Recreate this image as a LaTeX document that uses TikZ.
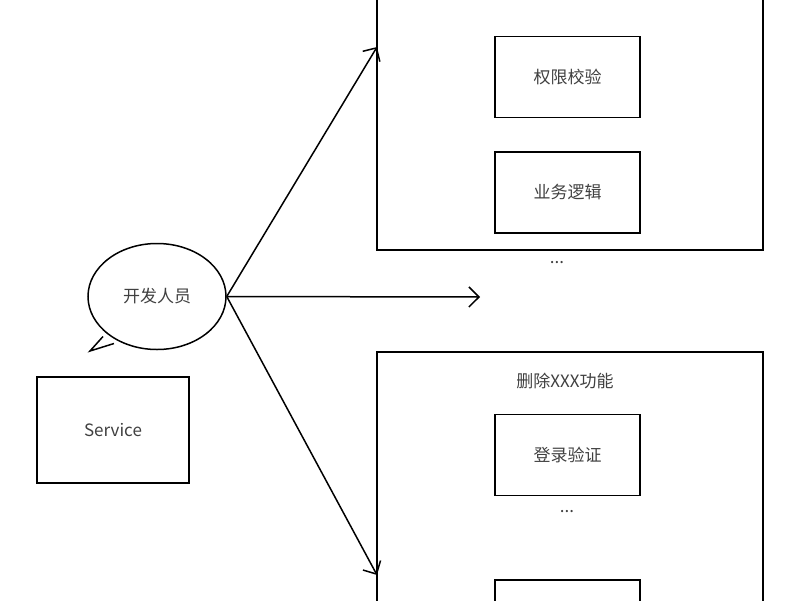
\documentclass[tikz,border=0pt]{standalone}
\usepackage{fontspec}
\setmainfont{Noto Sans CJK SC}
\usetikzlibrary{arrows.meta,shapes.geometric}

\begin{document}
\begin{tikzpicture}[x=1pt,y=-1pt,line width=1.5pt,
    every node/.style={font=\fontsize{17}{20}\selectfont,text=black!75},
    box/.style={draw,minimum width=145pt,minimum height=81pt},
    arr/.style={-{Straight Barb[length=10pt,width=20pt]}}]
    \useasboundingbox (0,0) rectangle (800,600);

    \draw (377,-5) rectangle (763,250);
    \draw (377,352) rectangle (763,605);

    \node[box] (quanxian) at (567.5,77) {权限校验};
    \node[box] (yewu) at (567.5,192.5) {业务逻辑};
    \node (dots1) at (557,263) {...};

    \node (title) at (565,381) {删除XXX功能};
    \node[box] (denglu) at (567.5,455) {登录验证};
    \node (dots2) at (567,512) {...};
    \draw (495,580) rectangle (640,610);

    \node[draw,minimum width=152pt,minimum height=106pt] (service) at (113,430) {Service};

    \node[draw,ellipse,minimum width=138pt,minimum height=106pt] (kaifa) at (157,296.5) {开发人员};
    \fill[white] (103,336) -- (90,351) -- (114,344) -- cycle;
    \draw[line join=miter] (103,336.5) -- (90,351) -- (114,343.5);

    \coordinate (mid) at (480,297);
    \coordinate (top) at (377,47);
    \coordinate (bot) at (377,575);
    \draw[arr] (kaifa.east) -- (top);
    \draw[arr] (kaifa.east) -- (mid);
    \draw[arr] (kaifa.east) -- (bot);
\end{tikzpicture}
\end{document}
